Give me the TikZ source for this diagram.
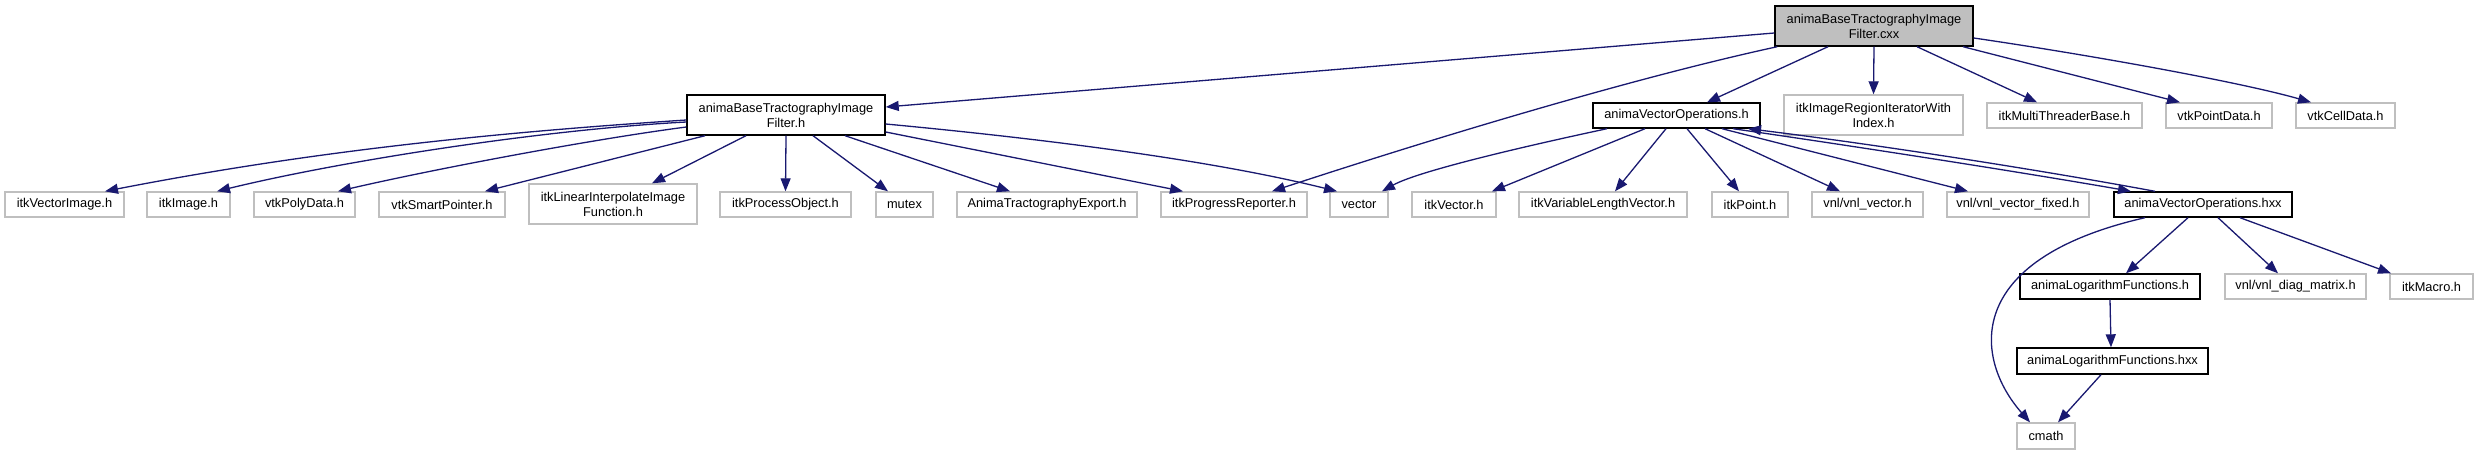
\documentclass[tikz,border=0pt]{standalone}
\usepackage{fontspec}
\setmainfont{Liberation Sans}
\usetikzlibrary{arrows.meta}
\definecolor{edgecol}{HTML}{191970}
\definecolor{extgrey}{HTML}{BFBFBF}
\definecolor{rootfill}{HTML}{BFBFBF}
\begin{document}
\begin{tikzpicture}[x=1pt,y=-1pt,
  nbox/.style={rectangle, inner sep=0pt, align=center, font=\fontsize{12.8}{15}\selectfont, line width=1.4pt},
  extbox/.style={nbox, draw=extgrey},
  docbox/.style={nbox, draw=black},
  rootbox/.style={nbox, draw=black, fill=rootfill},
  dep/.style={draw=edgecol, line width=1.3pt, -{Triangle[length=13pt,width=10pt]}},
]
\useasboundingbox (0,0) rectangle (2478,455);
\fill[white] (0,0) rectangle (2478,455);

% row 0
\node[rootbox, minimum width=198pt, minimum height=40pt] (root) at (1874,26) {animaBaseTractographyImage\\Filter.cxx};
% row 1
\node[docbox, minimum width=198pt, minimum height=40pt] (abt) at (786,115) {animaBaseTractographyImage\\Filter.h};
\node[docbox, minimum width=167pt, minimum height=25pt] (avo) at (1676.5,115.5) {animaVectorOperations.h};
\node[extbox, minimum width=179pt, minimum height=40pt] (irit) at (1873.5,115) {itkImageRegionIteratorWith\\Index.h};
\node[extbox, minimum width=155pt, minimum height=25pt] (mtb) at (2064.5,115.5) {itkMultiThreaderBase.h};
\node[extbox, minimum width=106pt, minimum height=25pt] (vpd) at (2219,115.5) {vtkPointData.h};
\node[extbox, minimum width=99pt, minimum height=25pt] (vcd) at (2345.5,115.5) {vtkCellData.h};
% row 2
\node[extbox, minimum width=119pt, minimum height=25pt] (vimg) at (64.5,204.5) {itkVectorImage.h};
\node[extbox, minimum width=83pt, minimum height=25pt] (img) at (188.5,204.5) {itkImage.h};
\node[extbox, minimum width=101pt, minimum height=25pt] (poly) at (304.5,204.5) {vtkPolyData.h};
\node[extbox, minimum width=126pt, minimum height=25pt] (smart) at (442,204.5) {vtkSmartPointer.h};
\node[extbox, minimum width=168pt, minimum height=40pt] (lin) at (613,204) {itkLinearInterpolateImage\\Function.h};
\node[extbox, minimum width=131pt, minimum height=25pt] (proc) at (785.5,204.5) {itkProcessObject.h};
\node[extbox, minimum width=57pt, minimum height=25pt] (mutex) at (904.5,204.5) {mutex};
\node[extbox, minimum width=180pt, minimum height=25pt] (export) at (1047,204.5) {AnimaTractographyExport.h};
\node[extbox, minimum width=146pt, minimum height=25pt] (prog) at (1234,204.5) {itkProgressReporter.h};
\node[extbox, minimum width=58pt, minimum height=25pt] (vector) at (1359,204.5) {vector};
\node[extbox, minimum width=84pt, minimum height=25pt] (itkvec) at (1454,204.5) {itkVector.h};
\node[extbox, minimum width=168pt, minimum height=25pt] (varlen) at (1603,204.5) {itkVariableLengthVector.h};
\node[extbox, minimum width=76pt, minimum height=25pt] (point) at (1750,204.5) {itkPoint.h};
\node[extbox, minimum width=111pt, minimum height=25pt] (vnlvec) at (1867.5,204.5) {vnl/vnl\_vector.h};
\node[extbox, minimum width=142pt, minimum height=25pt] (vnlfix) at (2018,204.5) {vnl/vnl\_vector\_fixed.h};
\node[docbox, minimum width=178pt, minimum height=25pt] (avoh) at (2203,204.5) {animaVectorOperations.hxx};
% row 3
\node[docbox, minimum width=180pt, minimum height=25pt] (logh) at (2110,286.5) {animaLogarithmFunctions.h};
\node[extbox, minimum width=141pt, minimum height=25pt] (diag) at (2295.5,286.5) {vnl/vnl\_diag\_matrix.h};
\node[extbox, minimum width=83pt, minimum height=25pt] (macro) at (2431.5,286.5) {itkMacro.h};
% row 4
\node[docbox, minimum width=191pt, minimum height=26pt] (loghxx) at (2112.5,361) {animaLogarithmFunctions.hxx};
% row 5
\node[extbox, minimum width=58pt, minimum height=26pt] (cmath) at (2046,436) {cmath};

% edges from root
\draw[dep] ([yshift=-7pt]root.west) -- ([yshift=8pt]abt.east);
\draw[dep] ([xshift=3pt]root.south west) .. controls (1628,79) and (1422,142) .. ([xshift=38pt]prog.north);
\draw[dep] ([xshift=-46pt]root.south) -- ([xshift=30.5pt]avo.north);
\draw[dep] (root.south) -- (irit.north);
\draw[dep] ([xshift=43pt]root.south) -- ([xshift=-27.5pt]mtb.north);
\draw[dep] ([xshift=89pt]root.south) -- ([xshift=-39pt]vpd.north);
\draw[dep] ([yshift=-12pt]root.east) .. controls (2090,55) and (2240,82) .. ([xshift=-34.5pt]vcd.north);

% edges from abt
\draw[dep] ([yshift=-5pt]abt.west) .. controls (487,133) and (307,152) .. ([xshift=40.5pt]vimg.north);
\draw[dep] ([yshift=-7pt]abt.west) .. controls (537,130) and (337,162) .. ([xshift=28.5pt]img.north);
\draw[dep] ([yshift=-12pt]abt.west) .. controls (587,140) and (430,170) .. ([xshift=33.5pt]poly.north);
\draw[dep] ([xshift=-81pt]abt.south) -- ([xshift=43pt]smart.north);
\draw[dep] ([xshift=-40pt]abt.south) -- ([xshift=39pt]lin.north);
\draw[dep] (abt.south) -- (proc.north);
\draw[dep] ([xshift=27pt]abt.south) -- ([xshift=-16.5pt]mutex.north);
\draw[dep] ([xshift=59pt]abt.south) -- ([xshift=-37pt]export.north);
\draw[dep] ([yshift=-17pt]abt.east) -- ([xshift=-51pt]prog.north);
\draw[dep] ([yshift=-9pt]abt.east) .. controls (1035,138) and (1207,159) .. ([xshift=-22pt]vector.north);

% edges from avo
\draw[dep] ([xshift=-69.5pt]avo.south) .. controls (1540,143) and (1420,170) .. ([xshift=23pt]vector.north);
\draw[dep] ([xshift=-31.5pt]avo.south) -- ([xshift=38pt]itkvec.north);
\draw[dep] ([xshift=-10.5pt]avo.south) -- ([xshift=12pt]varlen.north);
\draw[dep] ([xshift=10.5pt]avo.south) -- ([xshift=-11pt]point.north);
\draw[dep] ([xshift=28.5pt]avo.south) -- ([xshift=-27.5pt]vnlvec.north);
\draw[dep] ([xshift=45.5pt]avo.south) -- ([xshift=-50pt]vnlfix.north);
\draw[dep] ([xshift=56.5pt]avo.south) .. controls (1860,147) and (2020,172) .. ([xshift=-72pt]avoh.north);
\draw[dep] ([xshift=-48pt]avoh.north) .. controls (2040,170) and (1880,145) .. ([xshift=71.5pt]avo.south);

% edges from avoh
\draw[dep] ([xshift=-58pt]avoh.south) .. controls (1960,260) and (1975,360) .. ([xshift=-16pt]cmath.north);
\draw[dep] ([xshift=-15pt]avoh.south) -- ([xshift=16pt]logh.north);
\draw[dep] ([xshift=15pt]avoh.south) -- ([xshift=-17.5pt]diag.north);
\draw[dep] ([xshift=37pt]avoh.south) -- ([xshift=-40.5pt]macro.north);

% logarithm chain
\draw[dep] (logh.south) -- ([xshift=-1.5pt]loghxx.north);
\draw[dep] ([xshift=-11.5pt]loghxx.south) -- ([xshift=12pt]cmath.north);
\end{tikzpicture}
\end{document}
